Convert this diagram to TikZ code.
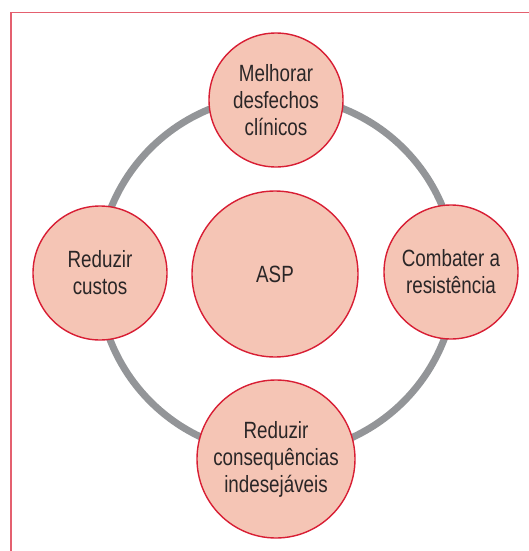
\documentclass[tikz,border=0pt]{standalone}
\usepackage{fontspec}
\setmainfont{Liberation Sans}[FakeStretch=0.8]
\definecolor{framecol}{HTML}{E4606F}
\definecolor{ringcol}{HTML}{939598}
\definecolor{circfill}{HTML}{F5C5B5}
\definecolor{circline}{HTML}{D81E34}
\definecolor{textcol}{HTML}{2A2627}
\begin{document}
\begin{tikzpicture}[x=1pt,y=-1pt,
  goal/.style={circle, draw=circline, line width=1.4pt, fill=circfill, inner sep=0pt,
    align=center, text=textcol, font=\fontsize{23.5}{27}\selectfont},
  ringline/.style={draw=ringcol, line width=7pt}]
\useasboundingbox (0,0) rectangle (529,551);
\begin{scope}
\clip (0,0) rectangle (529,551);
\draw[framecol, line width=1.2pt] (11,12.5) rectangle (560,580);
\end{scope}
\coordinate (ringc) at (277,275);
\draw[ringline] (ringc) circle[radius=179];
\node[goal, minimum size=166pt] (asp) at (275,274) {ASP};
\node[goal, minimum size=134pt] (top) at (276,100) {Melhorar\\desfechos\\clínicos};
\node[goal, minimum size=134pt] (left) at (100,273) {Reduzir\\custos};
\node[goal, minimum size=134pt] (right) at (451,272) {Combater a\\resistência};
\node[goal, minimum size=158pt] (bottom) at (276,459) {Reduzir\\consequências\\indesejáveis};
\end{tikzpicture}
\end{document}
